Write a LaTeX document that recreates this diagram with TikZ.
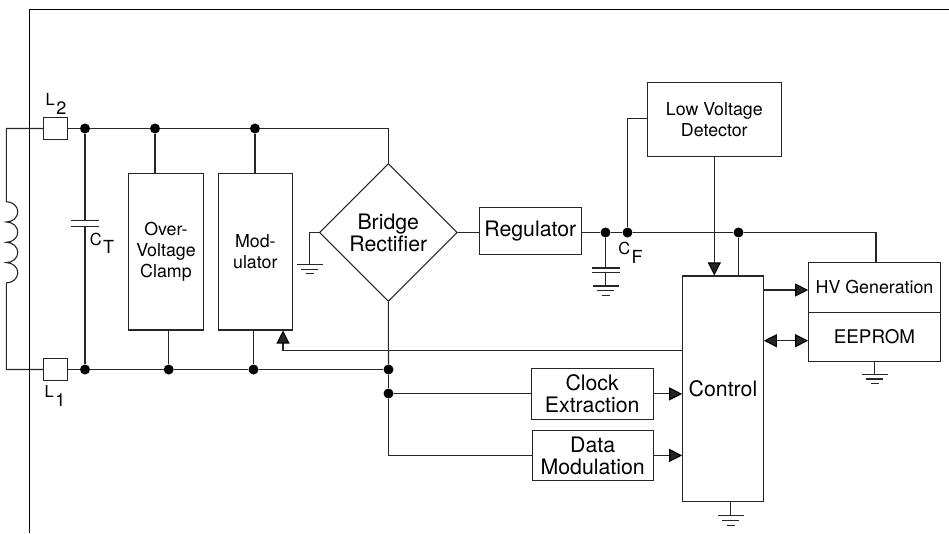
\documentclass[tikz,border=0pt]{standalone}
\usepackage{fontspec}
\setmainfont{TeX Gyre Heros}
\usetikzlibrary{arrows.meta,shapes.geometric}
\newcommand{\sublabel}[2]{\fontsize{16.5}{16.5}\selectfont #1\hspace{1.5pt}\raisebox{-8.5pt}{\fontsize{18}{18}\selectfont #2}}
\tikzset{
	wire/.style={line width=1.1pt,black!85},
	tip/.style={-{Triangle[length=13pt,width=13pt,black]}},
	twotip/.style={{Triangle[length=13pt,width=13pt,black]}-{Triangle[length=13pt,width=13pt,black]}},
	hv/.style={to path={-| (\tikztotarget)}},
	vh/.style={to path={|- (\tikztotarget)}},
	block/.style={draw=black!85,line width=1.1pt,inner sep=0pt,align=center},
	bigtext/.style={font=\fontsize{21.3}{22}\selectfont},
	smalltext/.style={font=\fontsize{17.8}{21}\selectfont},
	dot/.style={circle,fill=black,inner sep=0pt,minimum size=10pt},
	plate/.pic={\draw[wire] (-14,0) -- (14,0);},
	groundbars/.pic={
		\draw[wire] (-13,0) -- (13,0);
		\draw[wire] (-8.5,4.7) -- (8.5,4.7);
		\draw[wire] (-4,9.4) -- (4,9.4);
	}
}
\begin{document}
\begin{tikzpicture}[x=1pt,y=-1pt]
	\useasboundingbox (0,0) rectangle (949,533);
	% boxes
	\node[block,minimum width=24pt,minimum height=22pt] (ltwo) at (55.6,128.5) {};
	\node[block,minimum width=24pt,minimum height=22pt] (lone) at (55.6,369.5) {};
	\node[block,smalltext,minimum width=75pt,minimum height=156.5pt] (clamp) at (166,251.7) {Over-\\Voltage\\Clamp};
	\node[block,smalltext,minimum width=74.5pt,minimum height=156.5pt] (modulator) at (255.3,251.7) {Mod-\\ulator};
	\node[block,bigtext,diamond,aspect=1,minimum width=138pt,minimum height=138pt] (bridge) at (388.3,232.5) {Bridge\\Rectifier};
	\node[block,bigtext,minimum width=102pt,minimum height=47.4pt] (regulator) at (530.3,231) {Regulator};
	\node[block,smalltext,minimum width=134pt,minimum height=74.3pt] (detector) at (714.3,119.2) {Low Voltage\\Detector};
	\node[block,bigtext,minimum width=80.6pt,minimum height=225.3pt] (control) at (723,388.6) {Control};
	\node[block,smalltext,minimum width=131.6pt,minimum height=49.7pt] (hvgen) at (874.5,287.2) {HV Generation};
	\node[block,font=\fontsize{18.8}{21}\selectfont,minimum width=131.6pt,minimum height=49.3pt] (eeprom) at (874.5,336.7) {EEPROM};
	\node[block,bigtext,minimum width=121.7pt,minimum height=51.7pt] (clock) at (592.2,393.9) {Clock\\Extraction};
	\node[block,bigtext,minimum width=120.7pt,minimum height=50.7pt] (data) at (592.7,455.4) {Data\\Modulation};
	% junctions
	\node[dot] (dtone) at (85,128.5) {};
	\node[dot] (dttwo) at (155,128.5) {};
	\node[dot] (dtthree) at (255,128.5) {};
	\node[dot] (dbone) at (85,369.5) {};
	\node[dot] (dbtwo) at (168.7,369.5) {};
	\node[dot] (dbthree) at (253.5,369.5) {};
	\node[dot] (dbfour) at (388.5,369.5) {};
	\node[dot] (dbfive) at (388.5,393.5) {};
	\node[dot] (dfone) at (605.5,232.5) {};
	\node[dot] (dftwo) at (627.5,232.5) {};
	\node[dot] (dfthree) at (738.5,232.5) {};
	% free ends
	\coordinate (coiltop) at (6.3,201.7);
	\coordinate (coilbot) at (6.3,283);
	\coordinate (ctplatea) at (85,220.7);
	\coordinate (ctplateb) at (85,226.7);
	\coordinate (cfplatea) at (605.5,268);
	\coordinate (cfplateb) at (605.5,272.7);
	\coordinate (gndbridge) at (309.5,264.5);
	\coordinate (gndcf) at (605.5,286);
	\coordinate (gndeeprom) at (874.7,374.3);
	\coordinate (gndcontrol) at (730.7,515.7);
	\coordinate (framecorner) at (29.5,9.5);
	\coordinate (frameright) at (949,9.5);
	\coordinate (framebot) at (29.5,533);
	\coordinate (modin) at (283,330.5);
	% frame
	\draw[line width=1pt] (frameright) -- (framecorner) -- (framebot);
	% coil
	\draw[wire] (ltwo.west) -| (coiltop)
		arc[start angle=-90,end angle=90,x radius=11.5,y radius=10.15]
		arc[start angle=-90,end angle=90,x radius=11.5,y radius=10.15]
		arc[start angle=-90,end angle=90,x radius=11.5,y radius=10.15]
		arc[start angle=-90,end angle=90,x radius=11.5,y radius=10.15]
		(coilbot) |- (lone.west);
	% wires
	\path[wire]
	(ltwo) edge (dtone)
	(dtone) edge (dttwo) edge (ctplatea)
	(dttwo) edge (dtthree) edge (dttwo |- clamp.north)
	(dtthree) edge (dtthree |- modulator.north) edge[hv] (bridge.north)
	(lone) edge (dbone)
	(dbone) edge (dbtwo) edge (ctplateb)
	(dbtwo) edge (dbthree) edge (dbtwo |- clamp.south)
	(dbthree) edge (dbfour) edge (dbthree |- modulator.south)
	(bridge.south) edge (dbfour)
	(dbfour) edge (dbfive)
	(dbfive) edge (dbfive -| clock.west) edge[vh] (data.west)
	(bridge.west) edge[hv] (gndbridge)
	(bridge.east) edge (bridge.east -| regulator.west)
	(regulator.east |- dfone) edge (dfone)
	(dfone) edge (dftwo) edge (cfplatea)
	(cfplateb) edge (gndcf)
	(dftwo) edge (dfthree) edge[vh] (detector.west |- 0,118.3)
	(dfthree) edge[hv] (hvgen.north -| 876,0) edge (dfthree |- control.north)
	(eeprom.south -| gndeeprom) edge (gndeeprom)
	(control.south -| gndcontrol) edge (gndcontrol);
	\path[wire,tip]
	(detector) edge (detector |- control.north)
	(control.east |- 0,290) edge (hvgen.west |- 0,290)
	(clock.east) edge (clock.east -| control.west)
	(data.east) edge (data.east -| control.west)
	(control.west |- 0,350.5) edge[hv] (modin);
	\path[wire,twotip]
	(control.east |- 0,340.7) edge (eeprom.west |- 0,340.7);
	% plates and grounds
	\pic at (ctplatea) {plate};
	\pic at (ctplateb) {plate};
	\pic at (cfplatea) {plate};
	\pic at (cfplateb) {plate};
	\pic at (gndbridge) {groundbars};
	\pic at (gndcf) {groundbars};
	\pic at (gndeeprom) {groundbars};
	\pic at (gndcontrol) {groundbars};
	% labels
	\node[inner sep=0pt] (ltwolabel) at (56,104) {\sublabel{L}{2}};
	\node[inner sep=0pt] (lonelabel) at (55,396) {\sublabel{L}{1}};
	\node[inner sep=0pt] (ctlabel) at (102,243.5) {\sublabel{C}{T}};
	\node[inner sep=0pt] (cflabel) at (630.5,253) {\sublabel{C}{F}};
\end{tikzpicture}
\end{document}
